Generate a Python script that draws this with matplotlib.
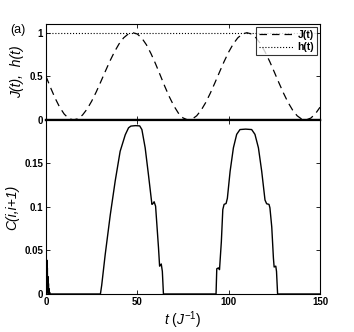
import matplotlib
matplotlib.use("Agg")
import matplotlib.pyplot as plt

plt.rcParams["font.family"] = ["Liberation Sans", "DejaVu Sans"]
plt.rcParams["mathtext.fontset"] = "custom"
plt.rcParams["mathtext.it"] = "Liberation Sans:italic"
plt.rcParams["mathtext.rm"] = "Liberation Sans"

# J(t)
t_j = [0, 2.5, 5, 7.5, 10, 12.5, 15, 17.5, 20, 22.5, 25, 27.5, 30, 32.5, 35,
       37.5, 40, 42.5, 45, 47.5, 50, 52.5, 55, 57.5, 60, 62.5, 65, 67.5, 70,
       72.5, 75, 77.5, 80, 82.5, 85, 87.5, 90, 92.5, 95, 97.5, 100, 102.5,
       105, 107.5, 110, 112.5, 115, 117.5, 120, 122.5, 125, 127.5, 130,
       132.5, 135, 137.5, 140, 142.5, 145, 147.5, 150]
j_vals = [0.5, 0.371, 0.25, 0.146, 0.067, 0.017, 0.0, 0.014, 0.057, 0.125,
          0.215, 0.321, 0.438, 0.558, 0.675, 0.781, 0.872, 0.941, 0.985, 1.0,
          0.985, 0.937, 0.861, 0.760, 0.643, 0.516, 0.387, 0.267, 0.162,
          0.078, 0.024, 0.001, 0.010, 0.048, 0.114, 0.202, 0.309, 0.427,
          0.549, 0.669, 0.778, 0.871, 0.941, 0.985, 1.0, 0.985, 0.941, 0.871,
          0.778, 0.669, 0.549, 0.427, 0.309, 0.202, 0.114, 0.048, 0.010,
          0.001, 0.022, 0.071, 0.146]

# h(t)
t_h = [0, 150]
h_vals = [1, 1]

# C(i,i+1)
t_c = [0, 0.15, 0.3, 0.45, 0.6, 0.75, 0.9, 1.05, 1.2, 1.35, 1.5, 1.65, 1.8,
       2.0, 2.3, 29.8, 30.5, 32.4, 35.2, 37.9, 40.6, 43.4, 45.2, 46.5, 49.0,
       51.3, 52.5, 54.3, 56.1, 57.6, 58.0, 58.6, 59.2, 60.0, 60.7, 61.6,
       62.2, 62.7, 63.1, 63.7, 64.3, 93.1, 93.5, 94.4, 95.0, 96.0, 96.8,
       97.5, 98.6, 99.3, 100.8, 102.6, 104.4, 106.2, 109.3, 112.6, 114.4,
       116.3, 118.1, 119.9, 120.8, 122.1, 122.6, 123.6, 124.5, 124.9, 125.8,
       126.2, 126.8, 150]
c_vals = [0.0, 0.028, 0.002, 0.039, 0.001, 0.030, 0.002, 0.020, 0.001, 0.012,
          0.001, 0.006, 0.001, 0.002, 0.0, 0.0, 0.010, 0.045, 0.091, 0.130,
          0.164, 0.183, 0.191, 0.193, 0.1935, 0.1932, 0.189, 0.168, 0.137,
          0.110, 0.103, 0.104, 0.106, 0.101, 0.080, 0.053, 0.032, 0.033,
          0.0345, 0.026, 0.0, 0.0, 0.029, 0.030, 0.028, 0.060, 0.097, 0.103,
          0.104, 0.110, 0.141, 0.168, 0.1835, 0.189, 0.1895, 0.189, 0.1835,
          0.168, 0.141, 0.108, 0.1037, 0.103, 0.099, 0.077, 0.0415, 0.031,
          0.032, 0.026, 0.0, 0.0]

fig = plt.figure(figsize=(3.54, 3.32), dpi=100)
ax1 = fig.add_axes([0.1299, 0.6386, 0.774, 0.2892])
ax2 = fig.add_axes([0.1299, 0.1145, 0.774, 0.5241])

ax1.plot(t_j, j_vals, "k--", lw=0.9, dashes=(6, 4), label="J(t)")
ax1.plot(t_h, h_vals, "k:", lw=0.8, label="h(t)")
ax1.set_xlim(0, 150)
ax1.set_ylim(0, 1.1)
ax1.set_yticks([0, 0.5, 1])
ax1.set_yticklabels(["0", "0.5", "1"])
ax1.set_xticks([0, 50, 100, 150])
ax1.set_xticklabels([])
ax1.set_ylabel("J(t),  h(t)", fontsize=10, fontstyle="italic", labelpad=4)
leg = ax1.legend(loc="upper right", fontsize=7.5, frameon=True, fancybox=False,
                 borderaxespad=0.25, handlelength=3.3, borderpad=0.3,
                 labelspacing=0.25, handletextpad=0.4)
leg.get_frame().set_edgecolor("black")
leg.get_frame().set_linewidth(0.8)
for txt in leg.get_texts():
    txt.set_fontweight("bold")

ax2.plot(t_c, c_vals, "k-", lw=1.0)
ax2.set_xlim(0, 150)
ax2.set_ylim(0, 0.2)
ax2.set_yticks([0, 0.05, 0.1, 0.15])
ax2.set_yticklabels(["0", "0.05", "0.1", "0.15"])
ax2.set_xticks([0, 50, 100, 150])
ax2.set_xlabel("$t\\ (J^{-1})$", fontsize=10, labelpad=2)
ax2.set_ylabel("C(i,i+1)", fontsize=10, fontstyle="italic", labelpad=4)

for ax in (ax1, ax2):
    ax.tick_params(direction="in", top=True, right=True, length=3,
                   width=0.6, labelsize=7, pad=2)
    for lab in ax.get_xticklabels() + ax.get_yticklabels():
        lab.set_fontweight("bold")
    for sp in ax.spines.values():
        sp.set_linewidth(0.8)
ax1.spines["bottom"].set_linewidth(1.6)
ax2.spines["top"].set_linewidth(1.6)

fig.text(0.028, 0.9, "(a)", fontsize=9)

fig.savefig("out.png", dpi=100)
